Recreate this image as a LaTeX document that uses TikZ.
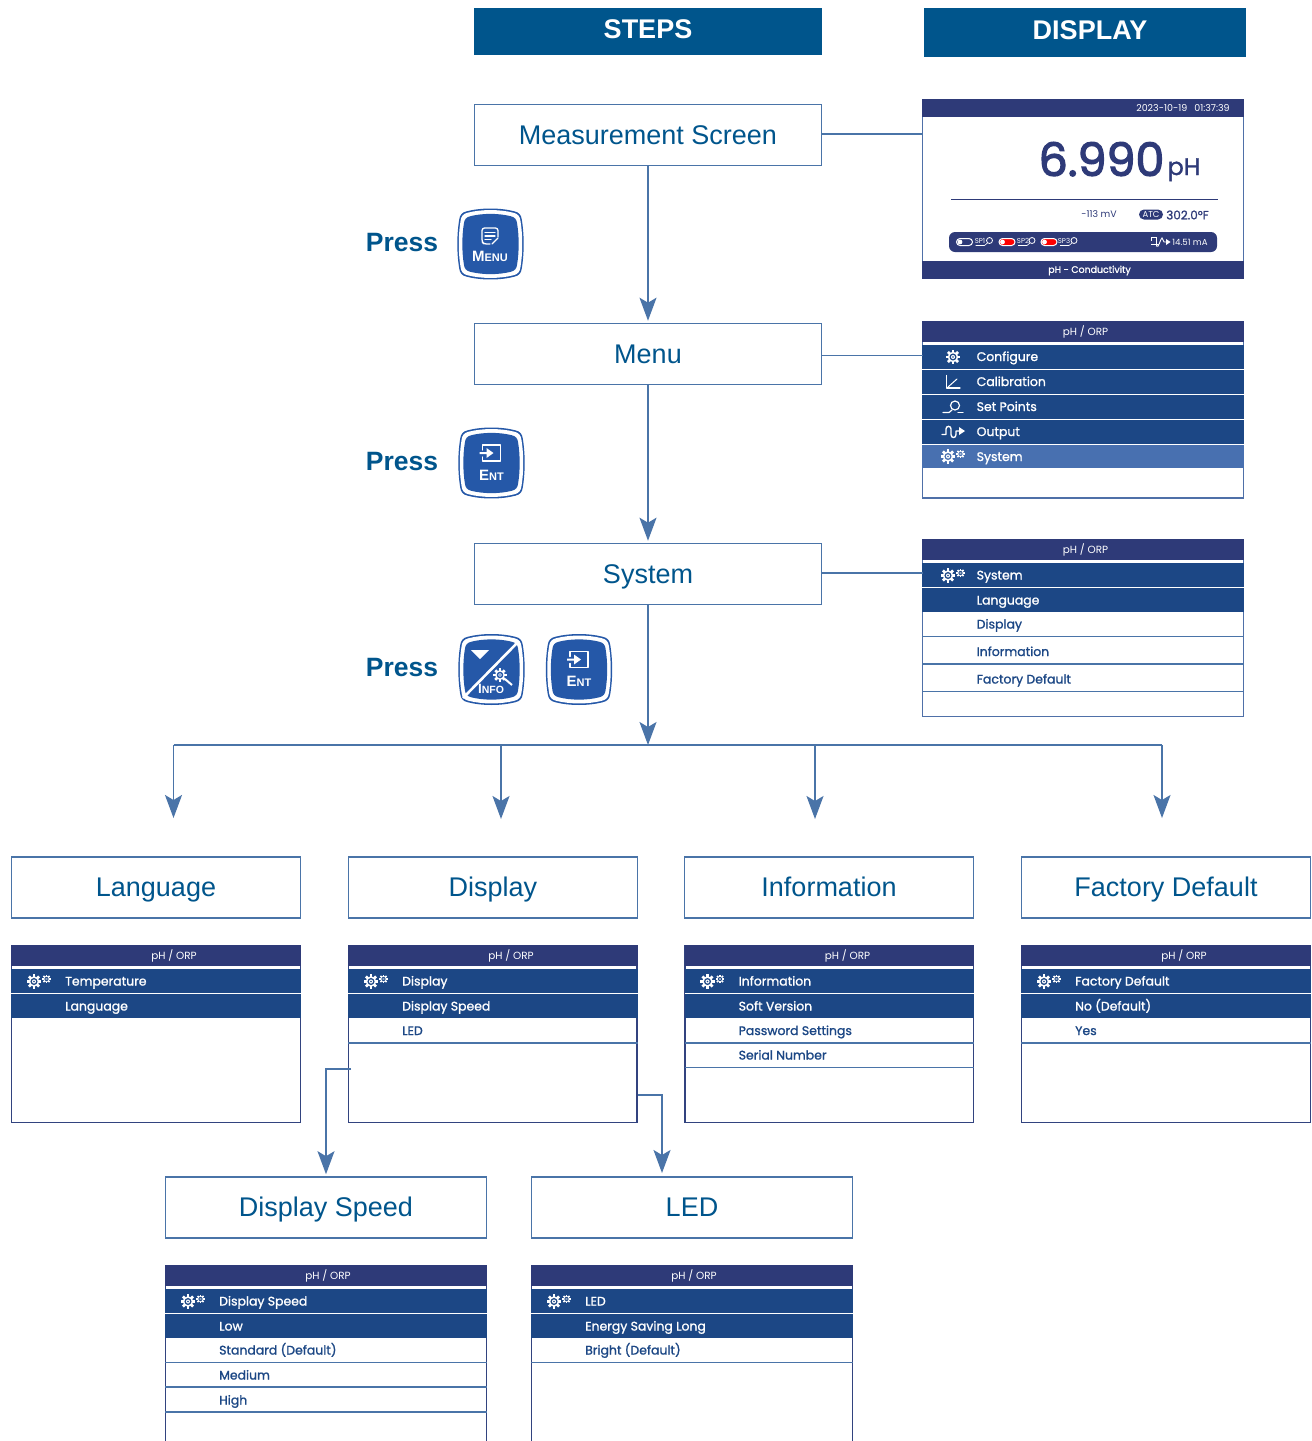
\documentclass[tikz,border=0pt]{standalone}
\usepackage{fontspec}
\setmainfont{Liberation Sans}
\newfontfamily\mont[FakeBold=1.2]{Poppins}
\newfontfamily\montb[FakeBold=2.6]{Poppins}
\newfontfamily\montr{Poppins}
\usetikzlibrary{arrows.meta,calc}
\definecolor{steel}{HTML}{00558C}
\definecolor{hdr}{HTML}{2E3A78}
\definecolor{dk}{HTML}{1C4785}
\definecolor{hi}{HTML}{4870B0}
\definecolor{lnk}{HTML}{4A74A8}
\definecolor{btn}{HTML}{2558A8}
\definecolor{frm}{HTML}{4F70A8}
\newcount\txtno
\tikzset{
  x=1pt,y=-1pt,
  titlebox/.style={fill=steel,text=white,inner sep=0pt,text height=19pt,text depth=6pt,font=\bfseries\fontsize{27}{27}\selectfont},
  stepbox/.style={draw=lnk,line width=1.6pt,fill=white,minimum width=#1,minimum height=61pt,inner sep=0pt,text height=18pt,text depth=0pt,text=steel,font=\fontsize{27}{27}\selectfont},
  stepbox/.default=289pt,
  link/.style={draw=lnk,line width=1.5pt},
  arrowlink/.style={link,-{Stealth[length=23pt,width=17pt,inset=5pt,fill=lnk]},shorten >=2pt},
  arrowfree/.style={link,-{Stealth[length=23pt,width=17pt,inset=5pt,fill=lnk]}},
  press/.style={text=steel,inner sep=0pt,font=\bfseries\fontsize{26.5}{26.5}\selectfont},
  rowtxt/.style={anchor=base west,inner sep=0pt,font=\mont\fontsize{12.45}{12.45}\selectfont},
  hdrtxt/.style={text=white,inner sep=0pt,font=\montr\fontsize{10.4}{10.4}\selectfont},
  tiny/.style={text=#1,inner sep=0pt,font=\montr\fontsize{9.4}{9.4}\selectfont},
  btntxt/.style={text=white,inner sep=0pt},
  icon/.style={draw=white,line width=1.2pt,line cap=round,line join=round},
}
% panel: name x0 x1 y0 y1 headerbottom headerx
\newcommand\mypanel[7]{%
  \pgfmathsetmacro\pcx{(#2+#3)/2}\pgfmathsetmacro\pcy{(#4+#5)/2}%
  \pgfmathsetmacro\pw{#3-#2-1}\pgfmathsetmacro\ph{#5-#4-1}%
  \node[draw=frm,line width=1.6pt,fill=white,minimum width=\pw pt,minimum height=\ph pt,inner sep=0pt,outer sep=0pt] (#1) at (\pcx,\pcy) {};
  \fill[hdr] (#2,#4) rectangle (#3,#6);
  \pgfmathsetmacro\phy{(#4+#6)/2+0.5}%
  \node[hdrtxt] (#1head) at (#7,\phy) {pH / ORP};
}
\newcommand\band[5]{\fill[#5] (#1,#3) rectangle (#2,#4);}
\newcommand\wsep[3]{\draw[white,line width=1pt] (#1,#3) -- (#2,#3);}
\newcommand\lsep[3]{\draw[lnk,line width=1.3pt] (#1,#3) -- (#2,#3);}
\newcommand\rowt[4]{\global\advance\txtno by 1\relax\node[rowtxt,text=#3] (row\the\txtno) at (#1,#2) {#4};}
% gear
\newcommand\gear[4]{%
  \foreach \a in {0,45,...,315}{\draw[white,line width=#3*0.42pt] ($(#1,#2)+(\a:#3*0.7)$) -- ($(#1,#2)+(\a:#3*1.12)$);}
  \fill[white] (#1,#2) circle[radius=#3*0.82];
  \fill[#4] (#1,#2) circle[radius=#3*0.55];
  \fill[white] (#1,#2) circle[radius=#3*0.32];
  \fill[#4] (#1,#2) circle[radius=#3*0.14];
}
\newcommand\gears[3]{\gear{#1-5}{#2+0.5}{6.4}{#3}\gear{#1+7.5}{#2-2}{3.8}{#3}}
% button outline: cx cy
\newcommand\btnshape{(-23,-32) .. controls (-9,-35.5) and (9,-35.5) .. (23,-32) .. controls (28,-31) and (30,-28) .. (30.5,-24) .. controls (33,-9) and (33,9) .. (30.5,24) .. controls (30,28) and (28,31) .. (23,32) .. controls (9,35.5) and (-9,35.5) .. (-23,32) .. controls (-28,31) and (-30,28) .. (-30.5,24) .. controls (-33,9) and (-33,-9) .. (-30.5,-24) .. controls (-30,-28) and (-28,-31) .. (-23,-32) -- cycle}
\newcommand\keycap[2]{%
  \begin{scope}[shift={(#1,#2)}]
    \begin{scope}[scale=1.025]\fill[btn] \btnshape;\end{scope}
    \begin{scope}[scale=0.98]\fill[white] \btnshape;\end{scope}
    \begin{scope}[scale=0.87]\fill[btn] \btnshape;\end{scope}
  \end{scope}}
\newcommand\enticon[2]{%
  \begin{scope}[shift={(#1,#2)}]
    \draw[icon,line width=1.3pt] (-9,-4) -- (-9,-9) -- (9,-9) -- (9,7) -- (-9,7) -- (-9,3);
    \fill[white] (-12,-2) -- (-5,-2) -- (-5,-6) -- (2,-1) -- (-5,4) -- (-5,0) -- (-12,0) -- cycle;
  \end{scope}}
\begin{document}
\begin{tikzpicture}
\useasboundingbox (0,0) rectangle (1312,1441);
\clip (0,0) rectangle (1312,1441);
\fill[white] (0,0) rectangle (1312,1441);
% titles
\node[titlebox,minimum width=348pt,minimum height=47pt] (steps) at (648,31.5) {STEPS};
\node[titlebox,minimum width=322pt,minimum height=49pt] (disp) at (1085,32.5) {\hspace*{10pt}DISPLAY};
% step boxes
\node[stepbox=347pt] (mscreen) at (648,135) {Measurement Screen};
\node[stepbox=347pt] (menu) at (648,354) {Menu};
\node[stepbox=347pt] (system) at (648,574) {System};
\node[stepbox] (language) at (156,887.5) {Language};
\node[stepbox] (display) at (493,887.5) {Display};
\node[stepbox] (information) at (829,887.5) {Information};
\node[stepbox] (factory) at (1166,887.5) {Factory Default};
\node[stepbox=321pt] (dspeed) at (326,1207.5) {Display Speed};
\node[stepbox=321pt] (led) at (692,1207.5) {LED};
% Press
\node[press] (press1) at (402,242.5) {Press};
\node[press] (press2) at (402,461.5) {Press};
\node[press] (press3) at (402,668) {Press};
% main panel
\node[draw=frm,line width=1.6pt,fill=white,minimum width=321pt,minimum height=179pt,inner sep=0pt,outer sep=0pt] (pmain) at (1083,189) {};
\fill[hdr] (922,99) rectangle (1244,117);
\fill[hdr] (922,261) rectangle (1244,279);
\node[tiny=white,font=\montr\fontsize{9.5}{9.5}\selectfont] (stamp) at (1183,108.5) {2023-10-19\hspace{7pt}01:37:39};
\node[tiny=white,font=\mont\fontsize{9.4}{9.4}\selectfont] (foot) at (1089.5,270.5) {pH - Conductivity};
\node[text=hdr,inner sep=0pt,anchor=base,font=\montb\fontsize{46}{46}\selectfont] (bigval) at (1101.5,176) {6.990};
\node[text=hdr,inner sep=0pt,anchor=base,font=\mont\fontsize{24}{24}\selectfont] (bigunit) at (1184,175) {pH};
\draw[hdr,line width=1.5pt] (951,199.5) -- (1218,199.5);
\node[tiny=hdr] (mv) at (1099,214.5) {-113 mV};
\node[fill=hdr,text=white,rounded corners=5pt,inner sep=0pt,minimum width=24pt,minimum height=10pt,font=\montr\fontsize{8.5}{8.5}\selectfont] (atc) at (1151,214.5) {ATC};
\node[tiny=hdr,font=\mont\fontsize{12}{12}\selectfont] (temp) at (1187.5,215) {302.0°F};
\fill[hdr,rounded corners=6pt] (949,232) rectangle (1217,252);
\foreach \px/\tc in {964.5/hdr,1007/red,1049/red}{
  \draw[white,line width=1pt,fill=\tc,rounded corners=3.5pt] (\px-8,238.5) rectangle (\px+8,245.5);
  \fill[white] (\px-4.5,242) circle[radius=2.4];
  \draw[white,line width=.6pt] (\px+11,245.5) -- (\px+20,245.5) -- (\px+23,243);
  \draw[white,line width=.8pt] (\px+25,240.5) circle[radius=3];
}
\node[tiny=white,font=\montr\fontsize{7}{7}\selectfont] (sp1) at (980,241) {SP1};
\node[tiny=white,font=\montr\fontsize{7}{7}\selectfont] (sp2) at (1023,241) {SP2};
\node[tiny=white,font=\montr\fontsize{7}{7}\selectfont] (sp3) at (1064,241) {SP3};
\draw[white,line width=.8pt] (1151,241) -- (1151,237) -- (1156,237) -- (1156,246) (1151,244) -- (1159,244);
\draw[white,line width=.9pt] (1156,246) .. controls (1159,249) and (1160,239) .. (1162,238) -- (1164,242) -- (1167,242);
\fill[white] (1166,239) -- (1170.5,242) -- (1166,245) -- cycle;
\node[tiny=white,font=\montr\fontsize{8.6}{8.6}\selectfont] (ma) at (1190,242) {14.51 mA};
% menu panel
\mypanel{pmenu}{922}{1244}{321}{498.5}{342}{1085.5}
\band{922}{1244}{345}{444}{dk}
\band{922}{1244}{444}{468}{hi}
\wsep{922}{1244}{369.5}\wsep{922}{1244}{394.5}\wsep{922}{1244}{419.5}\wsep{922}{1244}{444.5}
\rowt{976.5}{361}{white}{Configure}
\rowt{976.5}{386}{white}{Calibration}
\rowt{976.5}{411}{white}{Set Points}
\rowt{976.5}{436}{white}{Output}
\rowt{976.5}{461}{white}{System}
\gear{953}{357}{6.4}{dk}
\draw[icon] (946.5,375.5) -- (946.5,388) -- (960,388);
\draw[icon,line width=1pt] (948,387) -- (957,379);
\draw[icon] (943,412.5) -- (949,412.5) .. controls (950,412) and (951,411) .. (952,410);
\draw[icon] (955,405.5) circle[radius=4.5];
\draw[icon] (958,412.5) -- (963,412.5);
\draw[icon,line width=1.4pt] (942,434.5) -- (946,434.5) -- (946,429) .. controls (946,425.5) and (951,425.5) .. (951,429) -- (951,434.5) .. controls (951,438.5) and (956,438.5) .. (956,434.5) -- (956,431) -- (960,431);
\fill[white] (959,427) -- (965,431) -- (959,435) -- cycle;
\gears{953}{456}{hi}
% system panel
\mypanel{psystem}{922}{1244}{539}{717}{560}{1085.5}
\band{922}{1244}{563}{612}{dk}
\wsep{922}{1244}{587.5}
\lsep{922}{1244}{636.5}\lsep{922}{1244}{664}\lsep{922}{1244}{691.5}
\rowt{976.5}{579.5}{white}{System}
\rowt{976.5}{604.5}{white}{Language}
\rowt{976.5}{628.5}{dk}{Display}
\rowt{976.5}{656}{dk}{Information}
\rowt{976.5}{683.5}{dk}{Factory Default}
\gears{953}{575}{dk}
% lower panels
\colorlet{frm}{hdr!85!lnk}
\mypanel{plang}{11}{301}{945}{1123}{966}{174}
\band{11}{301}{969}{1018}{dk}\wsep{11}{301}{993.5}
\rowt{65}{985.5}{white}{Temperature}
\rowt{65}{1010.5}{white}{Language}
\gears{39}{981}{dk}
\mypanel{pdisplay}{348}{637.5}{945}{1123}{966}{511}
\band{348}{637.5}{969}{1018}{dk}\wsep{348}{637.5}{993.5}\lsep{348}{637.5}{1043}
\rowt{402}{985.5}{white}{Display}
\rowt{402}{1010.5}{white}{Display Speed}
\rowt{402}{1035}{dk}{LED}
\gears{376}{981}{dk}
\mypanel{pinfo}{684.5}{974}{945}{1123}{966}{847.5}
\band{684.5}{974}{969}{1018}{dk}\wsep{684.5}{974}{993.5}\lsep{684.5}{974}{1043}\lsep{684.5}{974}{1067.5}
\rowt{738.5}{985.5}{white}{Information}
\rowt{738.5}{1010.5}{white}{Soft Version}
\rowt{738.5}{1035}{dk}{Password Settings}
\rowt{738.5}{1059.5}{dk}{Serial Number}
\gears{712.5}{981}{dk}
\mypanel{pfact}{1021}{1311}{945}{1123}{966}{1184}
\band{1021}{1311}{969}{1018}{dk}\wsep{1021}{1311}{993.5}\lsep{1021}{1311}{1043}
\rowt{1075}{985.5}{white}{Factory Default}
\rowt{1075}{1010.5}{white}{No (Default)}
\rowt{1075}{1035}{dk}{Yes}
\gears{1049}{981}{dk}
\mypanel{pspeed}{165}{487}{1265}{1470}{1286}{328}
\band{165}{487}{1289}{1338}{dk}\wsep{165}{487}{1313.5}\lsep{165}{487}{1362.5}\lsep{165}{487}{1387}\lsep{165}{487}{1412}
\rowt{219}{1305.5}{white}{Display Speed}
\rowt{219}{1330.5}{white}{Low}
\rowt{219}{1354.5}{dk}{Standard (Default)}
\rowt{219}{1379.5}{dk}{Medium}
\rowt{219}{1404.5}{dk}{High}
\gears{193}{1301}{dk}
\mypanel{pled}{531}{853}{1265}{1470}{1286}{694}
\band{531}{853}{1289}{1338}{dk}\wsep{531}{853}{1313.5}\lsep{531}{853}{1362.5}
\rowt{585}{1305.5}{white}{LED}
\rowt{585}{1330.5}{white}{Energy Saving Long}
\rowt{585}{1354.5}{dk}{Bright (Default)}
\gears{559}{1301}{dk}
% keys
\keycap{490.5}{244}
\draw[icon,line width=1.3pt,rounded corners=2.5pt] (490,244) -- (484,244) -- (482,242) -- (482,228) -- (498,228) -- (498,237);
\draw[icon,line width=1.1pt] (485,232.5) -- (495,232.5) (485,236) -- (495,236) (485,239.5) -- (491,239.5);
\draw[icon,line width=1.1pt] (492,244) -- (498,238);
\node[btntxt,font=\bfseries] (kmenu) at (490,256) {\fontsize{15}{15}\selectfont M\fontsize{11}{11}\selectfont ENU};
\keycap{491.5}{463}
\enticon{491.5}{454}
\node[btntxt,font=\bfseries] (kent) at (491.5,475) {\fontsize{15}{15}\selectfont E\fontsize{11}{11}\selectfont NT};
\keycap{491.5}{669.5}
\draw[white,line width=2.6pt] (463,698) -- (519,641);
\fill[white] (471,650) -- (489,650) -- (480,659) -- cycle;
\gear{500}{675}{6}{btn}
\draw[white,line width=2pt] (505,679) -- (512,685);
\node[btntxt,font=\bfseries] (kinfo) at (491,689) {\fontsize{13.5}{13.5}\selectfont I\fontsize{10.5}{10.5}\selectfont NFO};
\keycap{579}{669.5}
\enticon{579}{660.5}
\node[btntxt,font=\bfseries] (kent2) at (579,681.5) {\fontsize{15}{15}\selectfont E\fontsize{11}{11}\selectfont NT};
% connectors
\coordinate (hub) at (648,745);
\coordinate (dropa) at (173.5,818);
\coordinate (dropb) at (501,819);
\coordinate (dropc) at (815,819);
\coordinate (dropd) at (1162,818);
\coordinate (speedout) at (351,1069);
\coordinate (ledout) at (638,1095);
\coordinate (ledin) at (662,1173);
\draw[link] ([yshift=1pt]mscreen.east) -- ([yshift=1pt]mscreen.east -| pmain.west);
\draw[link] ([yshift=-1.5pt]menu.east) -- ([yshift=-1.5pt]menu.east -| pmenu.west);
\draw[link] ([yshift=1pt]system.east) -- ([yshift=1pt]system.east -| psystem.west);
\draw[arrowlink] (mscreen) -- (menu);
\draw[arrowlink] (menu) -- (system);
\draw[arrowfree] (system) -- (hub);
\draw[link] (dropa |- hub) -- (dropd |- hub);
\draw[arrowfree] (dropa |- hub) -- (dropa);
\draw[arrowfree] (dropb |- hub) -- (dropb);
\draw[arrowfree] (dropc |- hub) -- (dropc);
\draw[arrowfree] (dropd |- hub) -- (dropd);
\draw[arrowlink] (speedout) -| (dspeed.north);
\draw[arrowfree] (ledout) -| (ledin);
\end{tikzpicture}
\end{document}
